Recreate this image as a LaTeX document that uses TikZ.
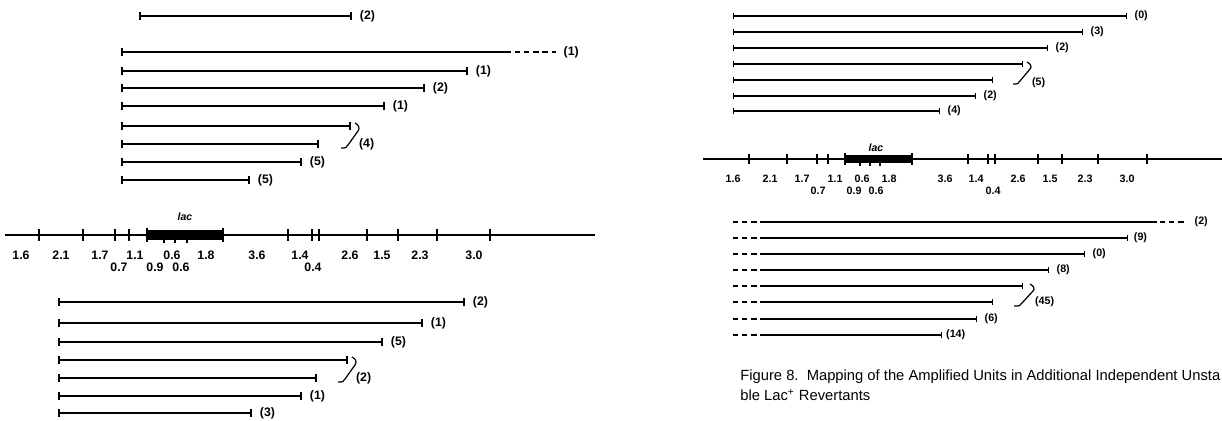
\documentclass[tikz,border=0pt]{standalone}
\usepackage{fontspec}
\setmainfont{Liberation Sans}
\usepackage{tikz}
\usetikzlibrary{arrows.meta,positioning,calc}

\begin{document}
\begin{tikzpicture}[
  x=0.02cm, y=-0.02cm,
  frag/.style={line width=1pt, {Bar[width=4.5pt]}-{Bar[width=4.5pt]}},
  fragR/.style={line width=0.75pt, {Bar[width=3.5pt]}-{Bar[width=3.5pt]}},
  fragO/.style={line width=0.75pt, -{Bar[width=3.5pt]}},
  tail/.style={line width=0.75pt, dash pattern=on 3pt off 2.2pt},
  axis/.style={line width=0.7pt},
  tk/.style={line width=0.7pt},
  brk/.style={line width=0.7pt},
  cnt/.style={font=\fontsize{7}{8}\selectfont\bfseries, inner sep=1pt, anchor=west},
  cntR/.style={cnt, font=\fontsize{6.1}{7}\selectfont\bfseries},
  sz/.style={font=\fontsize{7}{8}\selectfont\bfseries, inner sep=0pt},
  szR/.style={font=\fontsize{6.1}{7}\selectfont\bfseries, inner sep=0pt},
  gene/.style={font=\fontsize{6}{7}\selectfont\bfseries\itshape, inner sep=0pt},
  capt/.style={anchor=west, inner sep=0pt, font=\fontsize{8.4}{10}\selectfont},
]
\useasboundingbox (0,0) rectangle (1222,420);

% Left panel, upper units
\draw[frag] (139,16) -- (352,16) node[cnt, right=3pt] (lu0) {(2)};
\draw[line width=1pt, {Bar[width=4.5pt]}-] (121,52) -- (511,52);
\draw[tail] (515,52) -- (556,52) node[cnt, right=3pt] (lu1) {(1)};
\draw[frag] (121,71) -- (468,71) node[cnt, right=3pt] (lu2) {(1)};
\draw[frag] (121,88) -- (425,88) node[cnt, right=3pt] (lu3) {(2)};
\draw[frag] (121,106) -- (385,106) node[cnt, right=3pt] (lu4) {(1)};
\draw[frag] (121,126) -- (351,126);
\draw[frag] (121,144) -- (319,144);
\draw[brk] (355,123) .. controls (359,125) and (360,128) .. (358,131) -- (348,145) .. controls (346,148) .. (341,148);
\node[cnt] (lu5) at (357,144) {(4)};
\draw[frag] (121,162) -- (302,162) node[cnt, right=3pt] (lu6) {(5)};
\draw[frag] (121,180) -- (250,180) node[cnt, right=3pt] (lu7) {(5)};

% Left panel, map
\draw[axis] (5,235) -- (595,235);
\draw[tk] (39,229) -- (39,241) (83,229) -- (83,241) (115,229) -- (115,241)
  (129,229) -- (129,241) (288,229) -- (288,241) (312,229) -- (312,241)
  (319,229) -- (319,241) (367,229) -- (367,241) (398,229) -- (398,241)
  (437,229) -- (437,241) (490,229) -- (490,241);
\fill (147,230) rectangle (223,240);
\draw[tk] (147,228) -- (147,242) (223,228) -- (223,242)
  (164,238) -- (164,243) (175,238) -- (175,243) (187,238) -- (187,243);
\node[gene] (lacL) at (185,217) {lac};
\node[sz] (a1) at (21,255) {1.6};
\node[sz] (a2) at (61,255) {2.1};
\node[sz] (a3) at (100,255) {1.7};
\node[sz] (a4) at (135,255) {1.1};
\node[sz] (a5) at (172,255) {0.6};
\node[sz] (a6) at (206,255) {1.8};
\node[sz] (a7) at (257,255) {3.6};
\node[sz] (a8) at (300,255) {1.4};
\node[sz] (a9) at (350,255) {2.6};
\node[sz] (a10) at (382,255) {1.5};
\node[sz] (a11) at (420,255) {2.3};
\node[sz] (a12) at (474,255) {3.0};
\node[sz] (b1) at (119,267) {0.7};
\node[sz] (b2) at (155,267) {0.9};
\node[sz] (b3) at (181,267) {0.6};
\node[sz] (b4) at (313,267) {0.4};

% Left panel, lower units
\draw[frag] (58,302) -- (465,302) node[cnt, right=3pt] (ll0) {(2)};
\draw[frag] (58,323) -- (423,323) node[cnt, right=3pt] (ll1) {(1)};
\draw[frag] (58,342) -- (383,342) node[cnt, right=3pt] (ll2) {(5)};
\draw[frag] (58,360) -- (348,360);
\draw[frag] (58,378) -- (317,378);
\draw[brk] (352,357) .. controls (356,359) and (357,362) .. (355,365) -- (345,379) .. controls (343,382) .. (338,382);
\node[cnt] (ll3) at (354,378) {(2)};
\draw[frag] (58,396) -- (302,396) node[cnt, right=3pt] (ll4) {(1)};
\draw[frag] (58,413) -- (252,413) node[cnt, right=3pt] (ll5) {(3)};

% Right panel, upper units
\draw[fragR] (733,16) -- (1127,16) node[cntR, right=3pt] (ru0) {(0)};
\draw[fragR] (733,32) -- (1083,32) node[cntR, right=3pt] (ru1) {(3)};
\draw[fragR] (733,48) -- (1048,48) node[cntR, right=3pt] (ru2) {(2)};
\draw[fragR] (733,64) -- (1023,64);
\draw[fragR] (733,80) -- (993,80);
\draw[brk] (1027,62) .. controls (1031,64) and (1032,67) .. (1030,69) -- (1020,81) .. controls (1018,84) .. (1013,84);
\node[cntR] (ru3) at (1030,83) {(5)};
\draw[fragR] (733,96) -- (976,96) node[cntR, right=3pt] (ru4) {(2)};
\draw[fragR] (733,111) -- (940,111) node[cntR, right=3pt] (ru5) {(4)};

% Right panel, map
\draw[axis] (703,159) -- (1222,159);
\draw[tk] (749,154) -- (749,164) (787,154) -- (787,164) (817,154) -- (817,164)
  (828,154) -- (828,164) (968,154) -- (968,164) (988,154) -- (988,164)
  (995,154) -- (995,164) (1038,154) -- (1038,164) (1062,154) -- (1062,164)
  (1098,154) -- (1098,164) (1147,154) -- (1147,164);
\fill (845,155) rectangle (912,163);
\draw[tk] (845,153) -- (845,165) (912,153) -- (912,165)
  (860,162) -- (860,166) (870,162) -- (870,166) (880,162) -- (880,166);
\node[gene] (lacR) at (876,148) {lac};
\node[szR] (c1) at (733,179) {1.6};
\node[szR] (c2) at (770,179) {2.1};
\node[szR] (c3) at (802,179) {1.7};
\node[szR] (c4) at (835,179) {1.1};
\node[szR] (c5) at (862,179) {0.6};
\node[szR] (c6) at (889,179) {1.8};
\node[szR] (c7) at (945,179) {3.6};
\node[szR] (c8) at (976,179) {1.4};
\node[szR] (c9) at (1018,179) {2.6};
\node[szR] (c10) at (1050,179) {1.5};
\node[szR] (c11) at (1085,179) {2.3};
\node[szR] (c12) at (1127,179) {3.0};
\node[szR] (d1) at (818,191) {0.7};
\node[szR] (d2) at (854,191) {0.9};
\node[szR] (d3) at (876,191) {0.6};
\node[szR] (d4) at (993,191) {0.4};

% Right panel, lower units
\draw[tail] (733,222) -- (763,222);
\draw[line width=0.75pt] (763,222) -- (1157,222);
\draw[tail] (1160,222) -- (1187,222) node[cntR, right=3pt] (rl0) {(2)};
\draw[tail] (733,238) -- (763,238);
\draw[fragO] (763,238) -- (1128,238) node[cntR, right=2pt] (rl1) {(9)};
\draw[tail] (733,254) -- (763,254);
\draw[fragO] (763,254) -- (1085,254) node[cntR, right=3pt] (rl2) {(0)};
\draw[tail] (733,270) -- (763,270);
\draw[fragO] (763,270) -- (1049,270) node[cntR, right=3pt] (rl3) {(8)};
\draw[tail] (733,286) -- (763,286);
\draw[fragO] (763,286) -- (1023,286);
\draw[tail] (733,302) -- (763,302);
\draw[fragO] (763,302) -- (993,302);
\draw[brk] (1030,284) .. controls (1034,286) and (1035,289) .. (1033,291) -- (1022,303) .. controls (1020,306) .. (1014,306);
\node[cntR] (rl4) at (1033,302) {(45)};
\draw[tail] (733,319) -- (763,319);
\draw[fragO] (763,319) -- (977,319) node[cntR, right=3pt] (rl5) {(6)};
\draw[tail] (733,335) -- (763,335);
\draw[fragO] (763,335) -- (942,335) node[cntR, right=1pt] (rl6) {(14)};

% Caption
\node[capt] (cap1) at (740,377) {Figure 8.\ \ Mapping of the Amplified Units in Additional Independent Unsta};
\node[capt] (cap2) at (740,395) {ble Lac\textsuperscript{+} Revertants};
\end{tikzpicture}
\end{document}
